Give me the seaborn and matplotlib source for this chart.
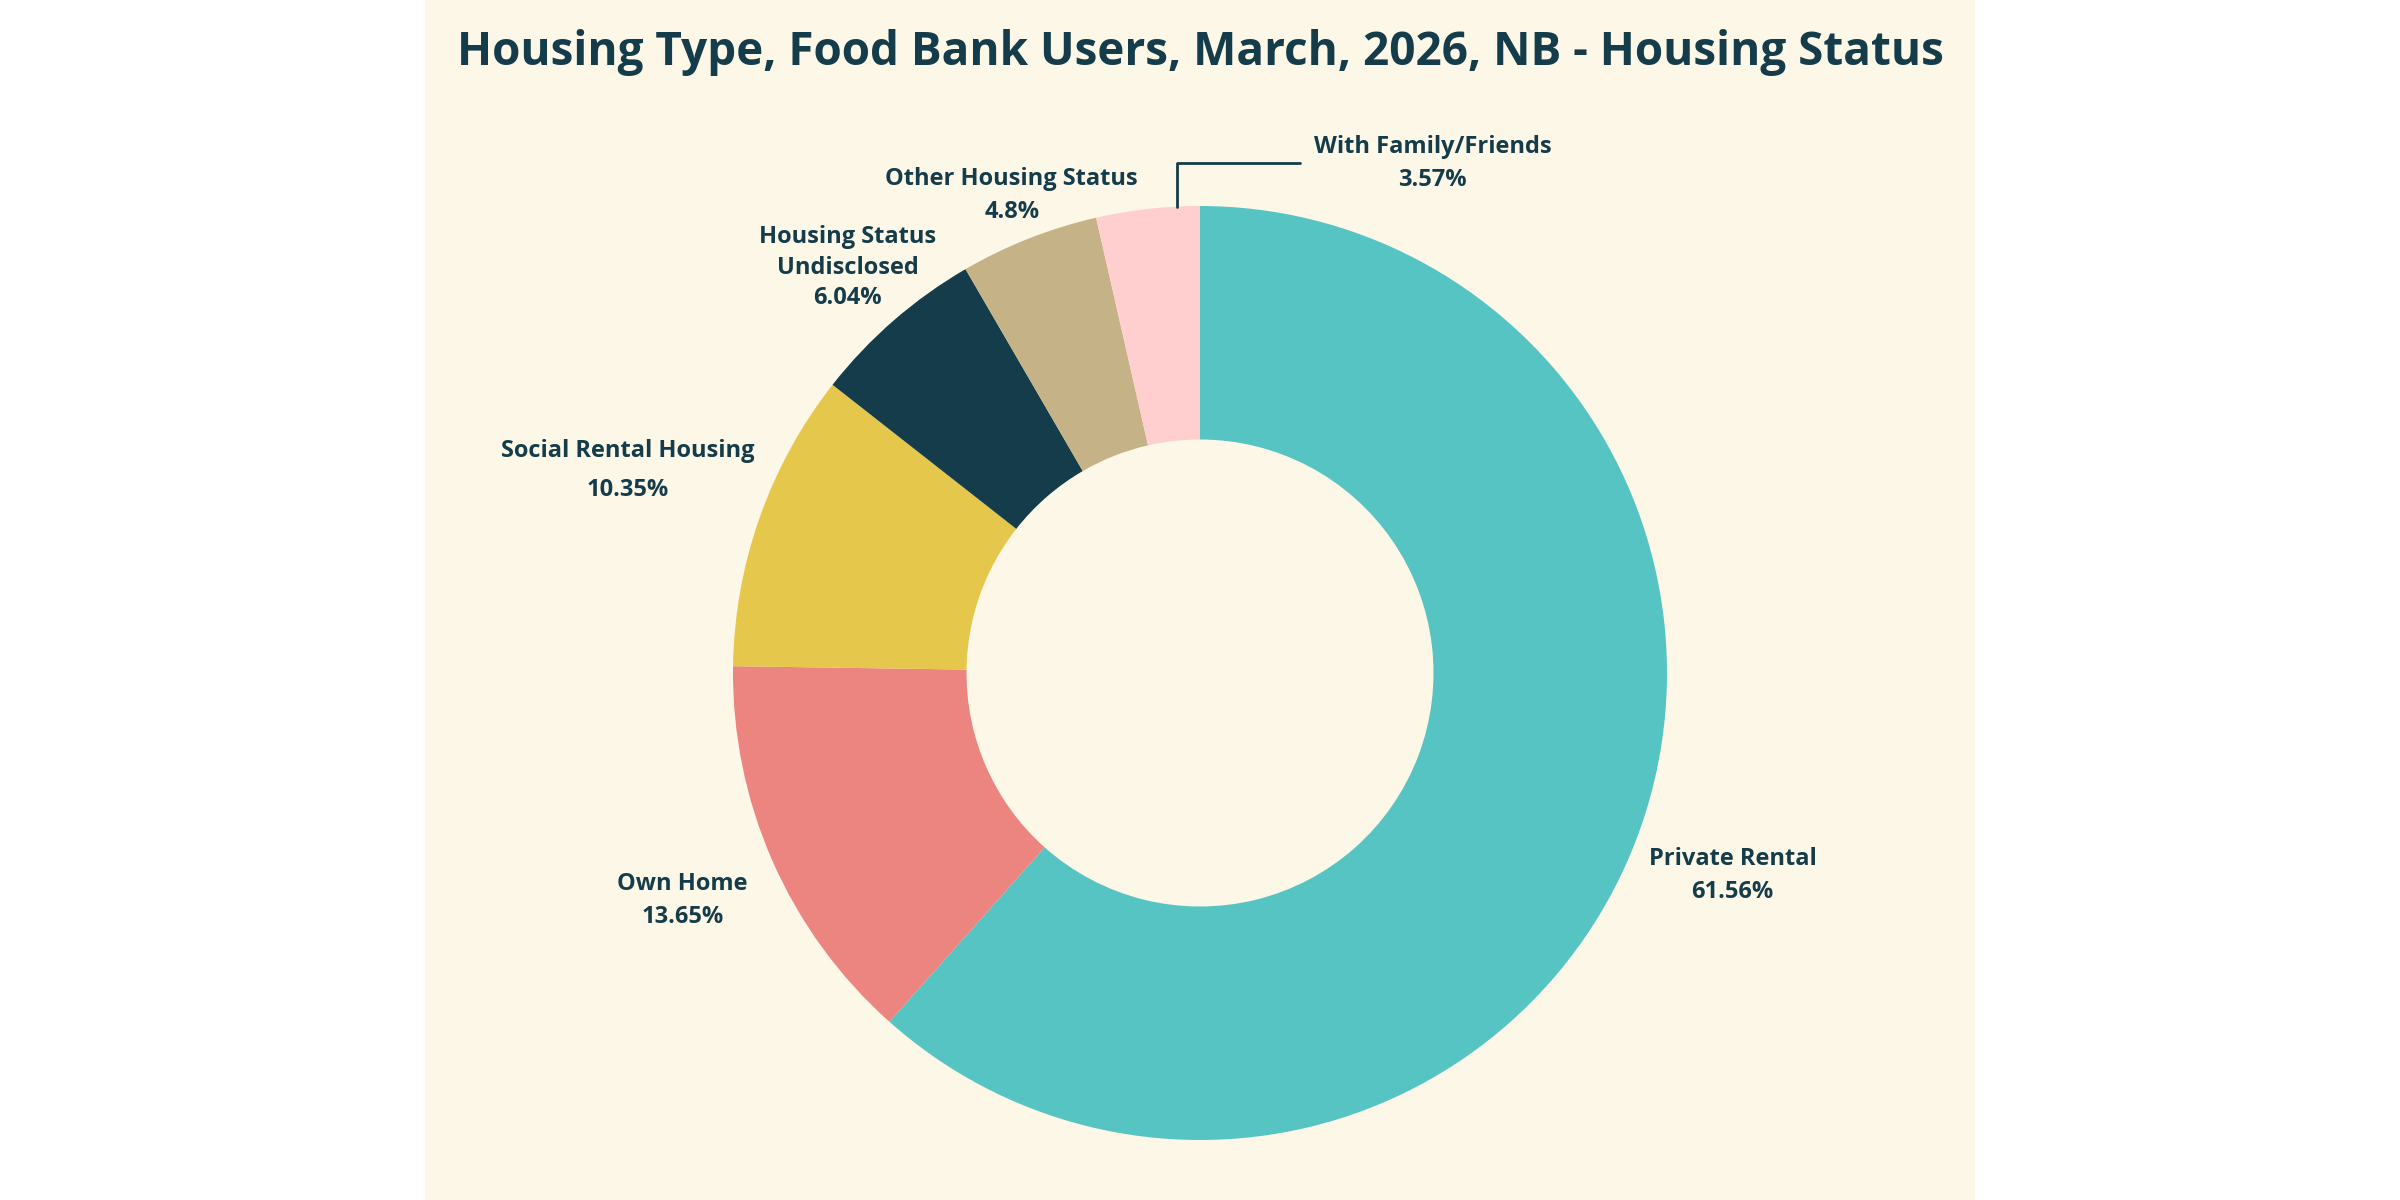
import seaborn as sns
import matplotlib.pyplot as plt
import numpy as np
from matplotlib.patches import Rectangle

# data
categories = ['Private Rental', 'Own Home', 'Social Rental Housing',
              'Housing Status\nUndisclosed', 'Other Housing Status',
              'With Family/Friends']
shares = [61.56, 13.65, 10.35, 6.04, 4.8, 3.57]
share_labels = ['61.56%', '13.65%', '10.35%', '6.04%', '4.8%', '3.57%']

colors = ['#57C4C4', '#EC8580', '#E5C84B', '#143C4A', '#C6B287', '#FFCFCF']
ink = '#143C4A'
cream = '#FDF7E7'

# how far out each label sits (in radii) and its line spacing
label_dist = [1.22, 1.21, 1.30, 1.15, 1.10]
label_spacing = [1.5, 1.5, 1.85, 1.35, 1.5]

sns.set_style('white')
plt.rcParams['font.family'] = ['Open Sans', 'DejaVu Sans']

fig = plt.figure(figsize=(24, 12), dpi=100, facecolor='white')
fig.patches.append(Rectangle((0.177, 0.0), 0.646, 1.0, transform=fig.transFigure,
                             facecolor=cream, edgecolor='none', zorder=-1))

ax = fig.add_axes([0, 0, 1, 1])
ax.patch.set_alpha(0)

wedges, _ = ax.pie(shares, colors=colors, startangle=90, counterclock=False,
                   radius=1, wedgeprops=dict(width=0.5, edgecolor='none'))

# pixel layout: centre at (1200, 673), outer radius 467 px
R = 467
ax.set_xlim(-1200 / R, 1200 / R)
ax.set_ylim(-(1200 - 673) / R, 673 / R)
ax.set_aspect('equal')
ax.axis('off')

for i, w in enumerate(wedges[:-1]):
    mid = np.deg2rad((w.theta1 + w.theta2) / 2)
    d = label_dist[i]
    ax.text(d * np.cos(mid), d * np.sin(mid), categories[i] + '\n' + share_labels[i],
            ha='center', va='center', multialignment='center',
            fontsize=17, fontweight='bold', color=ink, linespacing=label_spacing[i])

# small slice gets a leader line
w = wedges[-1]
ang = np.deg2rad(w.theta1 + 0.22 * (w.theta2 - w.theta1))
x0, y0 = np.cos(ang), np.sin(ang)
y1 = 1.092
x1 = x0 + 0.263
ax.plot([x0, x0, x1], [y0, y1, y1], color=ink, lw=2, solid_joinstyle='round')
ax.text(x1 + 0.03, y1, categories[-1] + '\n' + share_labels[-1],
        ha='left', va='center', multialignment='center',
        fontsize=17, fontweight='bold', color=ink, linespacing=1.5)

fig.text(0.5, 1 - 52 / 1200, 'Housing Type, Food Bank Users, March, 2026, NB - Housing Status',
         ha='center', va='center', fontsize=33, fontweight='bold', color=ink)

fig.savefig('out.png', dpi=100, facecolor='white')
